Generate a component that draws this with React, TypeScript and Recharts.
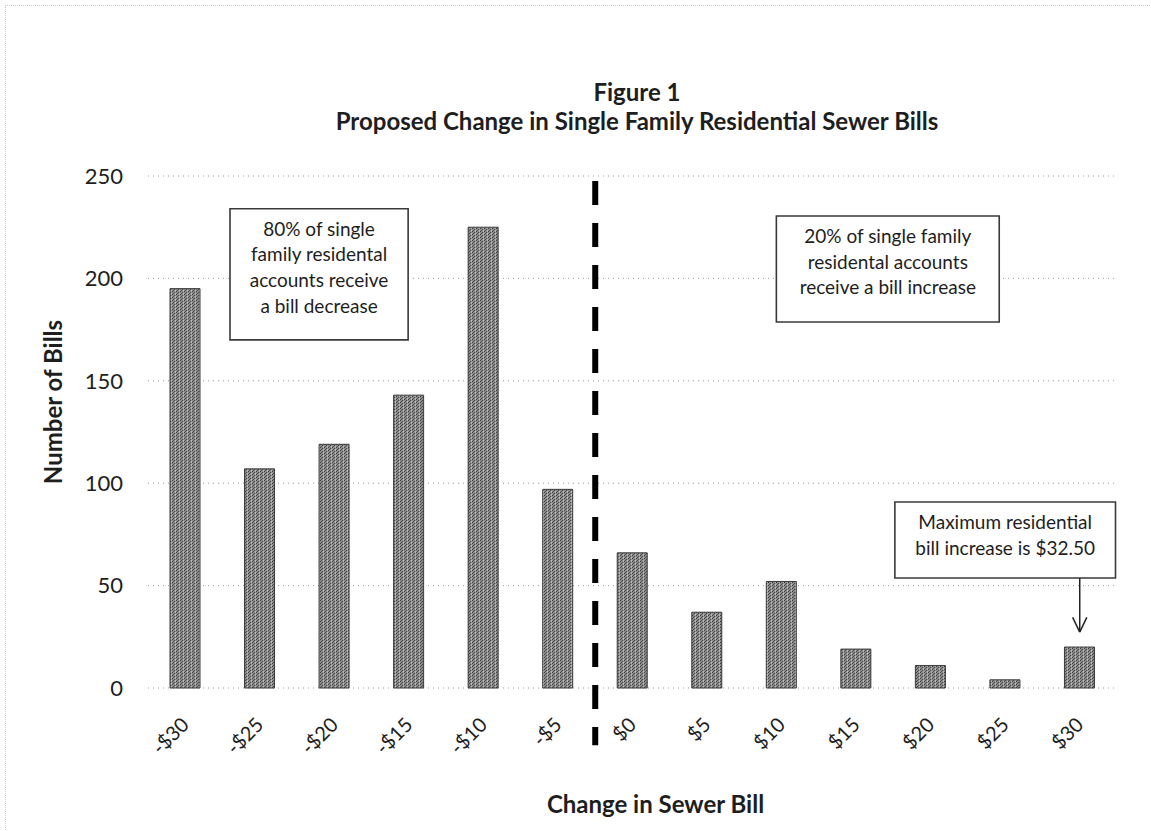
import React from 'react';
import { Bar, BarChart, CartesianGrid, ReferenceArea, ReferenceLine, XAxis, YAxis } from 'recharts';

// bill change buckets and number of single family bills in each
const categories = ['-$30', '-$25', '-$20', '-$15', '-$10', '-$5', '$0', '$5', '$10', '$15', '$20', '$25', '$30'];
const billCounts = [195, 107, 119, 143, 225, 97, 66, 37, 52, 19, 11, 4, 20];
const yTicks = [0, 50, 100, 150, 200, 250];

const decreaseNote = ['80% of single', 'family residental', 'accounts receive', 'a bill decrease'];
const increaseNote = ['20% of single family', 'residental accounts', 'receive a bill increase'];
const maxNote = ['Maximum residential', 'bill increase is $32.50'];

// pos is the category index, used by a hidden numeric axis to place the notes between categories
const data = categories.map((category, i) => ({ category, pos: i, bills: billCounts[i] }));

const FONT = 'Lato, "Open Sans", sans-serif';
const TEXT = '#1e1e1e';

const XTick = (props: any) => {
  const { x, y, payload } = props;
  const px = x + 5;
  const py = y + 38;
  return (
    <text x={px} y={py} transform={`rotate(-45, ${px}, ${py})`} textAnchor="end" fontSize={20} fill={TEXT} fontFamily={FONT}>
      {payload.value}
    </text>
  );
};

const YTitle = (props: any) => {
  const { viewBox } = props;
  const cx = viewBox.x + 32;
  const cy = viewBox.y + viewBox.height / 2 - 30;
  return (
    <text x={cx} y={cy} transform={`rotate(-90, ${cx}, ${cy})`} textAnchor="middle" dominantBaseline="central"
      fontSize={24} fontWeight={700} fill={TEXT} fontFamily={FONT}>
      Number of Bills
    </text>
  );
};

const XTitle = (props: any) => {
  const { viewBox } = props;
  return (
    <text x={viewBox.x + viewBox.width / 2 + 23} y={viewBox.y + 125} textAnchor="middle"
      fontSize={24} fontWeight={700} fill={TEXT} fontFamily={FONT}>
      Change in Sewer Bill
    </text>
  );
};

// multi line text inside an annotation box
const BoxLabel = (props: any) => {
  const { viewBox, lines } = props;
  const cx = viewBox.x + viewBox.width / 2;
  return (
    <text textAnchor="middle" fontSize={19} fill={TEXT} fontFamily={FONT}>
      {lines.map((line: string, i: number) => (
        <tspan key={line} x={cx} y={viewBox.y + 27 + i * 25.7}>{line}</tspan>
      ))}
    </text>
  );
};

const boxStyle = { fill: '#fff', fillOpacity: 1, stroke: '#3a3a3a', strokeWidth: 1.6 };

const App: React.FC = () => {
  return (
    <div style={styles.page}>
      <div style={styles.frame} />
      <div style={styles.title}>
        <div>Figure 1</div>
        <div>Proposed Change in Single Family Residential Sewer Bills</div>
      </div>
      <BarChart
        width={1151}
        height={831}
        data={data}
        margin={{ top: 176, right: 34, left: 20, bottom: 83 }}
        barSize={30}
        style={{ fontFamily: FONT }}
      >
        <defs>
          <pattern id="halftone" width="4" height="3" patternUnits="userSpaceOnUse">
            <rect width="4" height="3" fill="#8c8c8c" />
            <rect x="0" y="0" width="1" height="1" fill="#3e3e3e" />
            <rect x="2" y="1" width="1" height="1" fill="#4a4a4a" />
            <rect x="1" y="2" width="1" height="1" fill="#505050" />
            <rect x="3" y="2" width="1" height="1" fill="#bdbdbd" />
            <rect x="3" y="0" width="1" height="1" fill="#b0b0b0" />
          </pattern>
        </defs>
        <CartesianGrid vertical={false} stroke="#9a9a9a" strokeDasharray="1 4" />
        <XAxis
          dataKey="category"
          axisLine={false}
          tickLine={false}
          tickSize={0}
          tickMargin={0}
          interval={0}
          height={60}
          tick={<XTick />}
          label={<XTitle />}
        />
        <XAxis xAxisId="n" dataKey="pos" type="number" domain={[-0.5, 12.5]} allowDataOverflow hide />
        <YAxis
          domain={[0, 250]}
          ticks={yTicks}
          axisLine={false}
          tickLine={false}
          tickSize={0}
          tickMargin={25}
          width={128}
          tick={{ fontSize: 22, fill: TEXT, fontFamily: FONT }}
          label={<YTitle />}
        />
        <Bar dataKey="bills" fill="url(#halftone)" stroke="#3a3a3a" strokeWidth={1} isAnimationActive={false} />

        {/* divider between decreases and increases */}
        <ReferenceLine
          xAxisId="n"
          segment={[{ x: 5.5, y: 247.5 }, { x: 5.5, y: -28 }]}
          stroke="#000"
          strokeWidth={6}
          strokeDasharray="24 18"
          ifOverflow="visible"
        />

        <ReferenceArea xAxisId="n" x1={0.6} x2={2.99} y1={170} y2={234} {...boxStyle} ifOverflow="visible"
          label={<BoxLabel lines={decreaseNote} />} />
        <ReferenceArea xAxisId="n" x1={7.93} x2={10.92} y1={178.7} y2={230.5} {...boxStyle} ifOverflow="visible"
          label={<BoxLabel lines={increaseNote} />} />
        <ReferenceArea xAxisId="n" x1={9.52} x2={12.48} y1={53.7} y2={90.8} {...boxStyle} ifOverflow="visible"
          label={<BoxLabel lines={maxNote} />} />

        {/* arrow to the $30 bar */}
        <ReferenceLine xAxisId="n" segment={[{ x: 12, y: 53.7 }, { x: 12, y: 27.5 }]} stroke="#222" strokeWidth={1.5} ifOverflow="visible" />
        <ReferenceLine xAxisId="n" segment={[{ x: 11.905, y: 34.5 }, { x: 12, y: 27.3 }]} stroke="#222" strokeWidth={1.5} ifOverflow="visible" />
        <ReferenceLine xAxisId="n" segment={[{ x: 12.095, y: 34.5 }, { x: 12, y: 27.3 }]} stroke="#222" strokeWidth={1.5} ifOverflow="visible" />
      </BarChart>
    </div>
  );
};

const styles: Record<string, React.CSSProperties> = {
  page: {
    position: 'absolute',
    left: 0,
    top: 0,
    width: 1151,
    height: 831,
    background: '#fff',
    overflow: 'hidden',
  },
  frame: {
    position: 'absolute',
    left: 5,
    top: 5,
    width: 1160,
    height: 840,
    borderTop: '1px dotted #c8c8c8',
    borderLeft: '1px dotted #c8c8c8',
    pointerEvents: 'none',
  },
  title: {
    position: 'absolute',
    left: 237,
    top: 77,
    width: 800,
    textAlign: 'center',
    fontFamily: FONT,
    fontWeight: 700,
    fontSize: 24,
    lineHeight: '29px',
    color: TEXT,
  },
};

export default App;
